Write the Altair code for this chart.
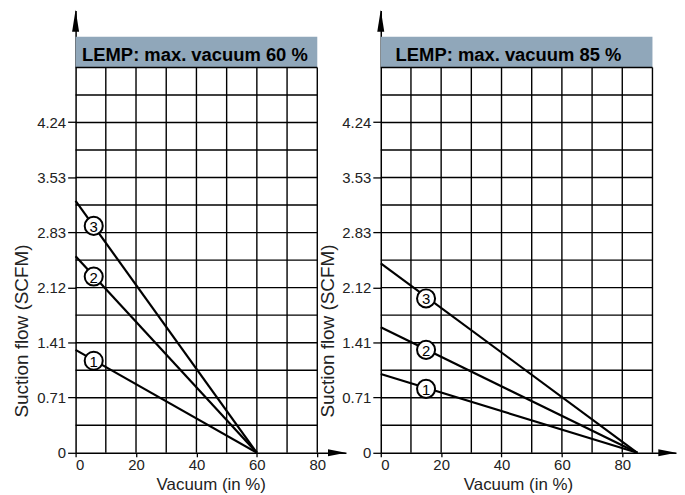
import altair as alt
import pandas as pd

FONT = "Liberation Sans"

# ---- data ----
panel_titles = ["LEMP: max. vacuum 60 %", "LEMP: max. vacuum 85 %"]
curve_ids = ["1", "2", "3"]

left_start_flow = [1.32, 2.52, 3.23]      # SCFM at 0 % vacuum
left_end_vacuum = 60                       # flow reaches 0 here
left_label_vacuum = [6, 6, 6]
left_label_flow = [1.18, 2.26, 2.91]

right_start_flow = [1.01, 1.61, 2.43]
right_end_vacuum = 85
right_label_vacuum = [15, 15, 15]
right_label_flow = [0.82, 1.32, 1.98]

y_tick_values = [0, 0.71, 1.41, 2.12, 2.83, 3.53, 4.24]
x_tick_values = [0, 20, 40, 60, 80]
y_grid_values = [0.353, 0.706, 1.059, 1.412, 1.765, 2.118, 2.471, 2.824,
                 3.177, 3.53, 3.883, 4.236, 4.589, 4.942]
left_x_grid = [10, 20, 30, 40, 50, 60, 70, 80]
right_x_grid = [10, 20, 30, 40, 50, 60, 70, 80, 90]

GRID_TOP = 4.942
BAND_TOP = 5.335
Y_MAX = 5.673
PX_X = 3.04
PX_Y = 78.4

BAND_COLOR = "#90a7ba"


def panel(title, title_x, starts, end, lab_x, lab_y, grid_x, x_max, arrow_x, axis_title_x):
    grid_right = grid_x[-1]
    width = round(x_max * PX_X)
    height = round(Y_MAX * PX_Y)
    xs = alt.Scale(domain=[0, x_max], nice=False, zero=False)
    ys = alt.Scale(domain=[0, Y_MAX], nice=False, zero=False)
    xaxis = alt.Axis(values=x_tick_values, title="Vacuum (in %)", grid=False,
                     tickSize=4, labelPadding=1, titleX=axis_title_x, titleY=37,
                     titleBaseline="alphabetic",
                     labelFontSize=15, titleFontSize=17)
    yaxis = alt.Axis(values=y_tick_values, title="Suction flow (SCFM)", grid=False,
                     tickSize=8, labelPadding=2,
                     labelExpr="datum.value == 0 ? '0' : format(datum.value, '.2f')",
                     titleX=-54, titleY=322, titleAlign="center", titleBaseline="middle",
                     titleAngle=270, labelFontSize=15, titleFontSize=19)
    X = alt.X("vac:Q", scale=xs, axis=xaxis)
    Y = alt.Y("flow:Q", scale=ys, axis=yaxis)

    band_df = pd.DataFrame({"vac": [0], "vac2": [grid_right], "flow": [GRID_TOP], "flow2": [BAND_TOP]})
    band = alt.Chart(band_df).mark_rect(color=BAND_COLOR).encode(
        x=X, x2="vac2:Q", y=Y, y2="flow2:Q")

    hg_df = pd.DataFrame({"flow": y_grid_values, "vac": [0] * len(y_grid_values),
                          "vac2": [grid_right] * len(y_grid_values)})
    hgrid = alt.Chart(hg_df).mark_rule(color="black", strokeWidth=1.4).encode(
        x=X, x2="vac2:Q", y=Y)

    vg_df = pd.DataFrame({"vac": grid_x, "flow": [0] * len(grid_x), "flow2": [GRID_TOP] * len(grid_x)})
    vgrid = alt.Chart(vg_df).mark_rule(color="black", strokeWidth=1.4).encode(
        x=X, y=Y, y2="flow2:Q")

    ln_df = pd.DataFrame({"curve": curve_ids * 2,
                          "vac": [0] * 3 + [end] * 3,
                          "flow": starts + [0] * 3})
    lines = alt.Chart(ln_df).mark_line(color="black", strokeWidth=2.2).encode(
        x=X, y=Y, detail="curve:N")

    lab_df = pd.DataFrame({"curve": curve_ids, "vac": lab_x, "flow": lab_y})
    circles = alt.Chart(lab_df).mark_point(shape="circle", filled=False, fill="white",
                                           fillOpacity=1, stroke="black", strokeWidth=2,
                                           size=330, opacity=1).encode(x=X, y=Y)
    nums = alt.Chart(lab_df).mark_text(font=FONT, fontSize=15, color="black",
                                       baseline="middle", align="center", dy=1).encode(
        x=X, y=Y, text="curve:N")

    t_df = pd.DataFrame({"vac": [title_x], "flow": [5.106], "t": [title]})
    ttl = alt.Chart(t_df).mark_text(font=FONT, fontSize=18.5, fontWeight="bold",
                                    color="black", baseline="middle", align="center").encode(
        x=X, y=Y, text="t:N")

    up_df = pd.DataFrame({"vac": [0], "flow": [5.54]})
    up = alt.Chart(up_df).mark_point(shape="M0,-1 L0.32,1 L-0.32,1 Z", filled=True,
                                     color="black", size=484, opacity=1).encode(x=X, y=Y)
    rt_df = pd.DataFrame({"vac": [arrow_x], "flow": [0]})
    rt = alt.Chart(rt_df).mark_point(shape="M1,0 L-1,0.4 L-1,-0.4 Z", filled=True,
                                     color="black", size=324, opacity=1).encode(x=X, y=Y)

    return alt.layer(band, hgrid, vgrid, lines, circles, nums, ttl, up, rt).properties(
        width=width, height=height)


left = panel(panel_titles[0], 39.5, left_start_flow, left_end_vacuum,
             left_label_vacuum, left_label_flow, left_x_grid, 89.5, 86.5, 136)
right = panel(panel_titles[1], 42.3, right_start_flow, right_end_vacuum,
              right_label_vacuum, right_label_flow, right_x_grid, 97.8, 94.9, 138)

chart = alt.hconcat(left, right, spacing=35, bounds="flush").configure_view(
    stroke=None
).configure_axis(
    domainColor="black", domainWidth=1.5, tickColor="black", tickWidth=1.3,
    labelColor="#222222", titleColor="#222222", labelFont=FONT, titleFont=FONT,
    titleFontWeight="normal"
).properties(padding={"left": 5, "top": 0, "right": 0, "bottom": 0}, background="white")

chart.save("out.html", embed_options={"renderer": "svg", "actions": False})
